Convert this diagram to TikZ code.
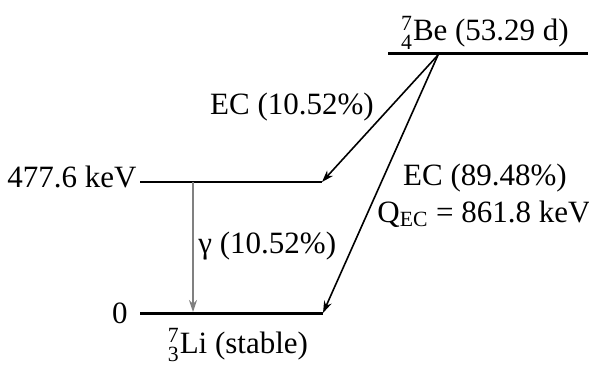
\documentclass[tikz,border=0pt]{standalone}
\usepackage{amsmath}
\usepackage{fontspec}
\setmainfont{Liberation Serif}
\usetikzlibrary{arrows.meta}
\newcommand{\isotope}[3]{${}^{\text{#1}}_{\text{#2}}$#3}

\begin{document}
\begin{tikzpicture}[x=0.5pt,y=-0.5pt,>={Stealth[length=6pt,width=4pt]},
    font=\fontsize{15.5}{18}\selectfont]
  \tikzset{level/.style={line width=1.5pt},
           decay/.style={->,line width=0.8pt},
           lbl/.style={inner sep=0pt,anchor=base}}
  \useasboundingbox (0,0) rectangle (589,374);
  % ---------------- levels ------------------------------------------
  \coordinate (beL) at (388,54);
  \coordinate (beR) at (588,54);
  \coordinate (beA) at (438,55);
  \coordinate (exL) at (140,182);
  \coordinate (exR) at (322,182);
  \coordinate (gsL) at (140,313);
  \coordinate (gsR) at (323,313);
  \coordinate (gTop) at (193,182);
  \coordinate (gBot) at (193,312);
  \draw[level] (beL) -- (beR);
  \draw[line width=1pt] (exL) -- (exR);
  \draw[level] (gsL) -- (gsR);
  % ---------------- labels ------------------------------------------
  \node[lbl] (be) at (485,41) {\isotope{7}{4}{Be} (53.29 d)};
  \node[lbl,anchor=base east] (exE) at (137,187) {477.6 keV};
  \node[lbl,anchor=base east] (gsE) at (128,323) {0};
  \node[lbl] (li) at (238,353) {\isotope{7}{3}{Li} (stable)};
  \node[lbl] (ec1) at (292,115) {EC (10.52\%)};
  \node[lbl,anchor=base west] (gam) at (198,253) {γ (10.52\%)};
  \node[lbl] (ec2) at (485,185) {EC (89.48\%)};
  \node[lbl] (qec) at (484,222) {Q$_{\text{EC}}$ = 861.8 keV};
  % ---------------- transitions -------------------------------------
  \draw[decay] (beA) -- (exR);
  \draw[decay] (beA) -- (gsR);
  \draw[->,gray,line width=0.8pt] (gTop) -- (gBot);
\end{tikzpicture}
\end{document}
